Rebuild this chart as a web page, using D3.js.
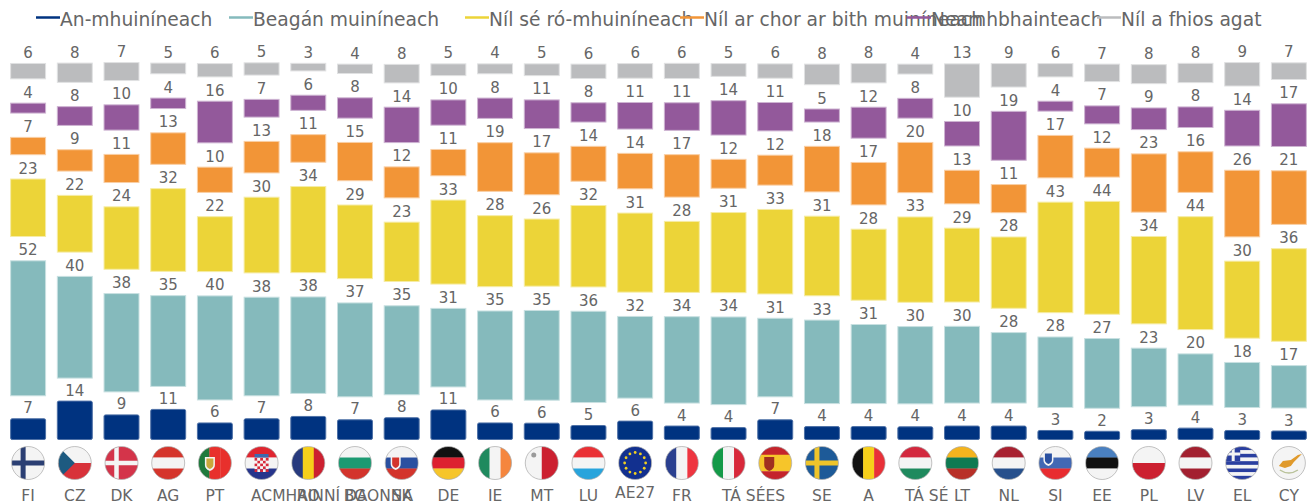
<!DOCTYPE html>
<html><head><meta charset="utf-8">
<script src="https://cdn.jsdelivr.net/npm/d3@7/dist/d3.min.js"></script>
<style>html,body{margin:0;padding:0;background:#fff}svg{display:block}text{font-family:Verdana,"DejaVu Sans",sans-serif}</style>
</head><body><svg id="c" width="1314" height="503"></svg>
<script>
const categories=["FI","CZ","DK","AG","PT","ACMHAINNÍ DAONNA","RO","BG","SK","DE","IE","MT","LU","AE27","FR","TÁ SÉ","ES","SE","A","TÁ SÉ","LT","NL","SI","EE","PL","LV","EL","CY"];
const flagCodes=["FI","CZ","DK","AT","PT","HR","RO","BG","SK","DE","IE","MT","LU","EU","FR","IT","ES","SE","BE","HU","LT","NL","SI","EE","PL","LV","EL","CY"];
const seriesNames=["An-mhuiníneach","Beagán muiníneach","Níl sé ró-mhuiníneach","Níl ar chor ar bith muiníneach","Neamhbhainteach","Níl a fhios agat"];
const veryConfident=[7.2,14,8.7,10.8,5.6,7.2,8.1,6.8,7.6,10.6,5.6,5.5,4.6,6.3,4.4,3.8,6.8,4.2,4.2,4.1,4.4,4.4,2.7,2.4,3,3.6,2.7,2.5];
const fairlyConfident=[52.3,39.5,38.2,35.3,40.4,38.3,37.5,36.5,34.6,30.6,34.6,34.9,35.5,31.8,33.6,34.1,30.6,32.5,30.8,30.1,29.9,27.5,27.5,27.2,22.9,20.1,17.7,16.7];
const notVery=[22.5,22.2,24.4,32.2,21.5,29.5,33.5,28.7,23.2,32.7,27.7,26.2,31.7,30.8,27.7,31.2,32.9,31,27.7,33.2,28.8,27.8,42.9,43.8,34,43.8,30,36];
const notAtAll=[7.05,8.6,11.2,12.5,10.1,12.5,11,15.1,12.3,10.5,19.1,16.5,13.8,14,16.7,11.5,11.9,17.9,16.7,19.7,13.3,11.2,16.7,11.5,22.8,16,26,21];
const notApplicable=[4.2,7.6,10.1,4.4,16.4,7.2,6.2,8.2,14,10.1,8.2,11.4,7.8,10.6,11,13.6,11.3,5.4,12.3,8,9.8,19.2,4.2,7.3,8.7,8.3,14.1,16.8];
const dontKnow=[6.3,7.8,7.3,4.5,5.5,5.1,3.3,4,7.5,4.9,4.2,4.9,5.9,6,6.2,5.3,5.9,8.3,7.8,4.2,13.2,9.4,5.5,7.1,7.7,7.8,9.4,6.8];
const colors=["#003380","#85BABC","#ECD438","#F29537","#93599B","#BBBCBE"];
const textColor="#666666";

const svg=d3.select("#c");
const values=[veryConfident,fairlyConfident,notVery,notAtAll,notApplicable,dontKnow];
const x=d3.scaleBand().domain(d3.range(categories.length)).range([5,1312]).paddingInner(0.23).paddingOuter(0.11);
const y=d3.scaleLinear().domain([0,100]).range([437,177]);
const offset=k=>k===0?0:k*23.3-1.3;
const rows=categories.map((c,i)=>{const r={i};values.forEach((v,k)=>r["s"+k]=v[i]);return r;});
const stack=d3.stack().keys(values.map((_,k)=>"s"+k))(rows);

stack.forEach((layer,k)=>{
  const g=svg.append("g");
  const extra=k===0?3:0;
  g.selectAll("rect").data(layer).join("rect")
    .attr("x",d=>x(d.data.i)+.5).attr("width",x.bandwidth()-1)
    .attr("y",d=>y(d[1])-offset(k)+.5).attr("height",d=>y(d[0])-y(d[1])+extra-1)
    .attr("rx",k===0?1.5:0).attr("fill",colors[k])
    .attr("stroke",d3.interpolateRgb(colors[k],"#ffffff")(k===0?.3:.55)).attr("stroke-width",1);
  g.selectAll("text").data(layer).join("text")
    .attr("x",d=>x(d.data.i)+x.bandwidth()/2).attr("y",d=>y(d[1])-offset(k)-5)
    .attr("text-anchor","middle").attr("font-size",15).attr("fill",textColor)
    .text(d=>Math.round(values[k][d.data.i]));
});

// legend
const legendX=[36,229,465,680,907,1097];
const lg=svg.append("g").selectAll("g").data(seriesNames).join("g");
lg.append("line").attr("x1",(d,i)=>legendX[i]).attr("x2",(d,i)=>legendX[i]+24).attr("y1",17.5).attr("y2",17.5).attr("stroke-width",2.5).attr("stroke",(d,i)=>colors[i]);
lg.append("text").attr("x",(d,i)=>legendX[i]+24).attr("y",26).attr("font-size",18.7).attr("fill",textColor).text(d=>d);

// flags
const W="#f4f4f4";
const flags={
FI:{h:[W],cross:["#2b3f73",5,-5]},CZ:{h:[W,"#d8323a"],tri:"#1d5a80"},DK:{h:["#d4344a"],cross:[W,4.5,-5]},
AT:{h:["#d5352c",W,"#d5352c"]},PT:{v:["#1f7a3c","#e8302c","#e8302c"],shield:["#c9a83c",-5,0,"#f4f4f4"]},HR:{h:["#e02530",W,"#26358c"],check:true},
RO:{v:["#273a7e","#f6cf1a","#cc2030"]},BG:{h:[W,"#1c9a72","#d3342c"]},SK:{h:[W,"#2a50a0","#d3342c"],shield:["#d3342c",-6,-1,W]},
DE:{h:["#111111","#dd2030","#f6c52a"]},IE:{v:["#1f8a5e",W,"#f5863e"]},MT:{v:[W,"#cc2030"],mark:true},LU:{h:["#ea3035",W,"#28a4dc"]},
EU:{h:["#12308f"],ring:"#f0cf20"},FR:{v:["#2a3f8f",W,"#ee3540"]},IT:{v:["#149a48",W,"#d8283a"]},ES:{h:["#c4242c","#f6c52a","#f6c52a","#c4242c"],shield:["#a03020",-6,0,"#a03020"]},
SE:{h:["#1d5a98"],cross:["#eec42a",5,-5]},BE:{v:["#111111","#f6cf1a","#e83038"]},HU:{h:["#d3283e",W,"#1f8a5e"]},LT:{h:["#f4b41e","#0f7a52","#b83028"]},
NL:{h:["#a82030",W,"#27508c"]},SI:{h:[W,"#4268b4","#e82c30"],shield:["#2a50a0",-7,-5,W]},EE:{h:["#4a80c0","#111111",W]},PL:{h:[W,"#cc2030"]},
LV:{h:["#a32030",W,"#a32030"]},EL:{h:["#2a3fa0",W,"#2a3fa0",W,"#2a3fa0",W,"#2a3fa0",W,"#2a3fa0"],corner:true},CY:{h:[W],island:"#e09a2c"}};
const labelStart={5:251,15:722,19:905};
const labelDy={13:-2.5};
const defs=svg.append("defs");
const R=16.5,cy=463;
categories.forEach((c,i)=>{
  const cx=x(i)+x.bandwidth()/2;
  const f=flags[flagCodes[i]];
  defs.append("clipPath").attr("id","cl"+i).append("circle").attr("cx",cx).attr("cy",cy).attr("r",R);
  const g=svg.append("g").attr("clip-path",`url(#cl${i})`);
  const bx=cx-R,by=cy-R,S=2*R;
  if(f.h){const n=f.h.length;f.h.forEach((col,j)=>g.append("rect").attr("x",bx).attr("y",by+j*S/n).attr("width",S).attr("height",S/n+.3).attr("fill",col));}
  if(f.v){const n=f.v.length;f.v.forEach((col,j)=>g.append("rect").attr("x",bx+j*S/n).attr("y",by).attr("width",S/n+.3).attr("height",S).attr("fill",col));}
  if(f.tri)g.append("path").attr("d",`M${bx} ${by}L${cx} ${cy}L${bx} ${by+S}Z`).attr("fill",f.tri);
  if(f.cross){const [col,w,dx]=f.cross;g.append("rect").attr("x",cx+dx-w/2).attr("y",by).attr("width",w).attr("height",S).attr("fill",col);g.append("rect").attr("x",bx).attr("y",cy-w/2).attr("width",S).attr("height",w).attr("fill",col);}
  if(f.shield){const [col,dx,dy,hi]=f.shield;const sx=cx+dx,sy=cy+dy;
    g.append("path").attr("d",`M${sx-5} ${sy-6}H${sx+5}V${sy+2}Q${sx+5} ${sy+6} ${sx} ${sy+8}Q${sx-5} ${sy+6} ${sx-5} ${sy+2}Z`).attr("fill",hi);
    g.append("path").attr("d",`M${sx-3.5} ${sy-4.5}H${sx+3.5}V${sy+2}Q${sx+3.5} ${sy+4.5} ${sx} ${sy+6}Q${sx-3.5} ${sy+4.5} ${sx-3.5} ${sy+2}Z`).attr("fill",col);}
  if(f.check){d3.range(5).forEach(a=>d3.range(5).forEach(b=>{g.append("rect").attr("x",cx-7+a*2.8).attr("y",cy-5+b*2.8).attr("width",2.8).attr("height",2.8).attr("fill",(a+b)%2?W:"#d8283a");}));
    g.append("rect").attr("x",cx-7).attr("y",cy-9).attr("width",14).attr("height",3.5).attr("fill","#3a6ab0");}
  if(f.mark){g.append("circle").attr("cx",cx-8).attr("cy",cy-8).attr("r",2.5).attr("fill","#9a9a9a");}
  if(f.island){g.append("path").attr("d",`M${cx-10} ${cy+3}L${cx-6} ${cy-2}L${cx+2} ${cy-3}L${cx+9} ${cy-8}L${cx+13} ${cy-9}L${cx+5} ${cy-1}L${cx+2} ${cy+3}L${cx-4} ${cy+5}Z`).attr("fill",f.island);
    g.append("path").attr("d",`M${cx-9} ${cy+7}Q${cx} ${cy+13} ${cx+9} ${cy+7}`).attr("fill","none").attr("stroke","#b9c29a").attr("stroke-width",1.5);}
  if(f.ring)d3.range(12).forEach(a=>g.append("circle").attr("cx",cx+10.5*Math.cos(a*Math.PI/6)).attr("cy",cy+10.5*Math.sin(a*Math.PI/6)).attr("r",1.4).attr("fill",f.ring));
  if(f.corner){g.append("rect").attr("x",bx).attr("y",by).attr("width",14.5).attr("height",14.5).attr("fill","#2a3fa0");g.append("rect").attr("x",bx+6).attr("y",by).attr("width",3).attr("height",14.5).attr("fill",W);g.append("rect").attr("x",bx).attr("y",by+6).attr("width",14.5).attr("height",3).attr("fill",W);}
  svg.append("circle").attr("cx",cx).attr("cy",cy).attr("r",R).attr("fill","none").attr("stroke","#a8a8a8").attr("stroke-width",.7);
  const start=labelStart[i];
  svg.append("text").attr("x",start===undefined?cx:start).attr("y",500.5+(labelDy[i]||0))
    .attr("text-anchor",start===undefined?"middle":"start").attr("font-size",15.5).attr("fill",textColor).text(c);
});
</script></body></html>
